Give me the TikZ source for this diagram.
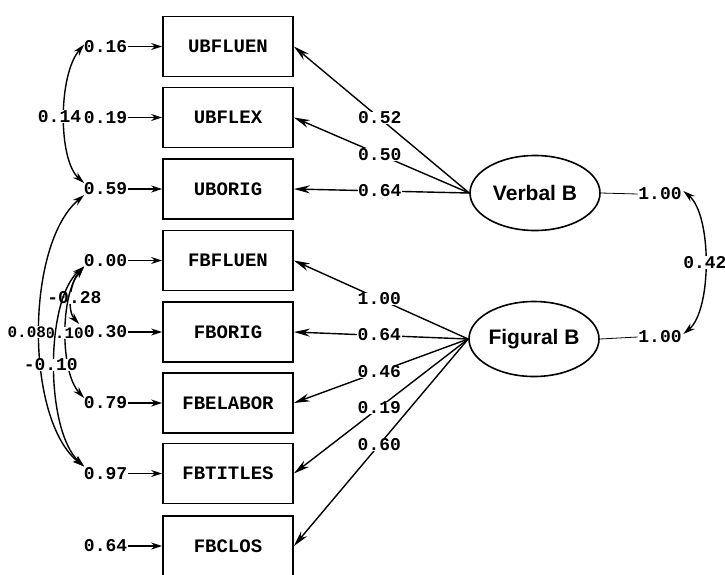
\documentclass[tikz,border=0pt]{standalone}
\usepackage{fontspec}
\setmainfont{Liberation Serif}
\newfontfamily\monof{Liberation Mono}
\newfontfamily\latf{Liberation Sans}
\usetikzlibrary{arrows.meta,calc,shapes.geometric}
\begin{document}
\begin{tikzpicture}[x=1pt,y=-1pt,
  box/.style={draw,line width=1.8pt,minimum width=130pt,minimum height=60pt,inner sep=0pt,
    font=\monof\bfseries\fontsize{19}{19}\selectfont},
  lat/.style={draw,ellipse,line width=1.6pt,minimum width=130pt,minimum height=75pt,inner sep=0pt,
    font=\latf\bfseries\fontsize{21}{21}\selectfont},
  val/.style={font=\monof\bfseries\fontsize{18}{18}\selectfont,inner sep=0.6pt,text height=11pt,text depth=0pt},
  sval/.style={val,font=\monof\bfseries\fontsize{16}{16}\selectfont,fill=white},
  lbl/.style={val,fill=white},
  err/.style={val,anchor=east},
  ld/.style={line width=1.4pt,-{Stealth[length=16pt,width=8pt]}},
  eda/.style={line width=1.4pt,-{Stealth[length=11pt,width=7pt]}},
  cov/.style={line width=1.4pt,{Stealth[length=12pt,width=7pt]}-{Stealth[length=12pt,width=7pt]}},
  thinl/.style={line width=0.8pt}
]
\useasboundingbox (0,0) rectangle (725,574);

% observed variables
\node[box] (b1) at (228,46.5) {UBFLUEN};
\node[box] (b2) at (228,117.5) {UBFLEX};
\node[box] (b3) at (228,189) {UBORIG};
\node[box] (b4) at (228,260.5) {FBFLUEN};
\node[box] (b5) at (228,332) {FBORIG};
\node[box] (b6) at (228,403) {FBELABOR};
\node[box] (b7) at (228,473.5) {FBTITLES};
\node[box] (b8) at (228,546) {FBCLOS};

% latent variables
\node[lat] (vb) at (535,193) {Verbal B};
\node[lat] (fb) at (534,339) {Figural B};

% error variances
\node[err] (e1) at (128,46.5) {0.16};
\node[err] (e2) at (128,117.5) {0.19};
\node[err] (e3) at (128,189) {0.59};
\node[err] (e4) at (128,260.5) {0.00};
\node[err] (e5) at (128,332) {0.30};
\node[err] (e6) at (128,403) {0.79};
\node[err] (e7) at (128,473.5) {0.97};
\node[err] (e8) at (128,546) {0.64};

\foreach \i in {1,...,8} {\draw[eda] (e\i.east) -- (b\i.west);}

% loadings
\draw[ld] (vb.west) -- node[lbl,pos=0.51]{0.52} (b1.east);
\draw[ld] (vb.west) -- node[lbl,pos=0.51]{0.50} (b2.east);
\draw[ld] (vb.west) -- node[lbl,pos=0.51]{0.64} (b3.east);
\draw[ld] (fb.west) -- node[lbl,pos=0.51]{1.00} (b4.east);
\draw[ld] (fb.west) -- node[lbl,pos=0.51]{0.64} (b5.east);
\draw[ld] (fb.west) -- node[lbl,pos=0.51]{0.46} (b6.east);
\draw[ld] (fb.west) -- node[lbl,pos=0.51]{0.19} (b7.east);
\draw[ld] (fb.west) -- node[lbl,pos=0.51]{0.60} (b8.east);

% latent variances and covariance
\node[val] (v1) at (660,194) {1.00};
\node[val] (f1) at (660,337) {1.00};
\draw[thinl] (vb.east) -- (v1.west);
\draw[thinl] (fb.east) -- (f1.west);
\draw[cov] ($(v1.east)+(1,-3)$) .. controls (712,215) and (712,310) .. node[lbl]{0.42} ($(f1.east)+(1,-3)$);

% error covariances
\draw[cov] ($(e1.west)+(1,-2)$) .. controls (58,75) and (58,160) .. node[lbl,xshift=-5pt]{0.14} ($(e3.west)+(1,-6)$);
\draw[cov] ($(e4.west)+(1,6)$) .. controls (68,285) and (68,312) .. node[lbl,xshift=3pt]{-0.28} ($(e5.west)+(-4,-8)$);
\draw[cov] ($(e4.west)+(1,6)$) .. controls (60,295) and (60,372) .. node[sval,xshift=-1.5pt]{0.10} ($(e6.west)+(1,-5)$);
\draw[cov] ($(e3.west)+(1,6)$) .. controls (25,245) and (25,420) .. node[sval,xshift=-13pt]{0.08} ($(e7.west)+(1,-7)$);
\draw[cov] ($(e4.west)+(1,6)$) .. controls (45,300) and (45,430) .. node[lbl,xshift=-4pt]{-0.10} ($(e7.west)+(1,-7)$);
\end{tikzpicture}
\end{document}
